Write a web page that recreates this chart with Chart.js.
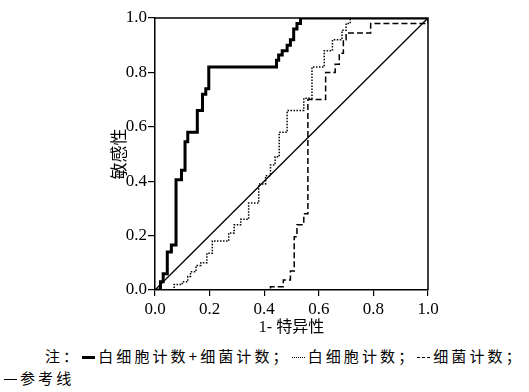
<!DOCTYPE html>
<html lang="zh">
<head>
  <meta charset="UTF-8" />
  <title>ROC 曲线</title>
  <script src="https://cdn.jsdelivr.net/npm/chart.js"></script>
  <style>
    body { margin: 0; background: #fff; }
    #wrap { position: relative; width: 529px; height: 392px; }
    #roc { position: absolute; left: 0; top: 0; }
    .note { position: absolute; font-family: 'Noto Sans CJK SC', sans-serif; font-size: 15px; letter-spacing: 3.1px; color: #000; white-space: nowrap; line-height: 20px; }
    .mk { display: inline-block; width: 13px; height: 0; vertical-align: middle; margin: 0 3px 0 1px; }
    .mk.thick { border-top: 3px solid #000; }
    .mk.dot { border-top: 1.5px dotted #000; }
    .mk.dash { border-top: 1.5px dashed #000; }
    .mk.thin { border-top: 1.5px solid #000; }
  </style>
</head>
<body>
  <div id="wrap">
    <canvas id="roc" width="529" height="345"></canvas>
    <div class="note" style="left:45px; top:346px;">注：<span class="mk thick"></span>白细胞计数+细菌计数；<span class="mk dot"></span>白细胞计数；<span class="mk dash"></span>细菌计数；</div>
    <div class="note" style="left:3px; top:368px;"><span class="mk thin"></span>参考线</div>
  </div>

  <script>
    // 1-特异性 / 敏感性 (corner points, step before)
    const comboX = [0, 0.02, 0.03, 0.045, 0.06, 0.077, 0.097, 0.11, 0.12, 0.155, 0.174, 0.186, 0.197, 0.445, 0.453, 0.466, 0.484, 0.496, 0.508, 0.52, 0.533, 1.0];
    const comboY = [0, 0.03, 0.06, 0.14, 0.165, 0.405, 0.44, 0.545, 0.58, 0.66, 0.72, 0.74, 0.82, 0.845, 0.864, 0.88, 0.90, 0.92, 0.96, 0.98, 1.0, 1.0];

    const wbcX = [0, 0.07, 0.10, 0.12, 0.13, 0.15, 0.168, 0.19, 0.21, 0.27, 0.29, 0.314, 0.343, 0.38, 0.405, 0.423, 0.44, 0.455, 0.484, 0.545, 0.575, 0.62, 0.65, 0.685, 0.70, 0.715, 1.0];
    const wbcY = [0, 0.02, 0.03, 0.05, 0.067, 0.09, 0.10, 0.135, 0.18, 0.21, 0.24, 0.26, 0.32, 0.39, 0.42, 0.46, 0.49, 0.58, 0.66, 0.705, 0.82, 0.88, 0.92, 0.955, 0.98, 1.0, 1.0];

    const bactX = [0, 0.423, 0.47, 0.496, 0.51, 0.52, 0.545, 0.56, 0.625, 0.66, 0.675, 0.69, 0.70, 0.79, 1.0];
    const bactY = [0, 0.012, 0.037, 0.07, 0.196, 0.24, 0.28, 0.70, 0.80, 0.83, 0.87, 0.92, 0.945, 0.98, 1.0];

    const refX = [0, 1];
    const refY = [0, 1];

    const pts = (xs, ys) => xs.map((x, i) => ({ x: x, y: ys[i] }));

    const serif = "'Liberation Serif', 'Noto Sans CJK SC', serif";

    // draw top + right sides of the box
    const frame = {
      id: 'frame',
      afterDatasetsDraw(chart) {
        const { ctx, chartArea: a } = chart;
        ctx.save();
        ctx.strokeStyle = '#000';
        ctx.lineWidth = 1.5;
        ctx.beginPath();
        ctx.moveTo(a.left, a.top);
        ctx.lineTo(a.right, a.top);
        ctx.lineTo(a.right, a.bottom);
        ctx.stroke();
        ctx.restore();
      }
    };

    new Chart(document.getElementById('roc'), {
      type: 'scatter',
      data: {
        datasets: [
          { label: '参考线', data: pts(refX, refY), showLine: true, borderColor: '#000', borderWidth: 1.3, pointRadius: 0 },
          { label: '细菌计数', data: pts(bactX, bactY), showLine: true, stepped: 'before', borderColor: '#000', borderWidth: 1.5, borderDash: [6, 3], pointRadius: 0 },
          { label: '白细胞计数', data: pts(wbcX, wbcY), showLine: true, stepped: 'before', borderColor: '#000', borderWidth: 1.5, borderDash: [1.5, 1.5], pointRadius: 0 },
          { label: '白细胞计数+细菌计数', data: pts(comboX, comboY), showLine: true, stepped: 'before', borderColor: '#000', borderWidth: 3, pointRadius: 0 }
        ]
      },
      options: {
        responsive: false,
        animation: false,
        layout: { padding: { left: 107, right: 101, top: 18, bottom: 0 } },
        plugins: { legend: { display: false }, tooltip: { enabled: false } },
        scales: {
          x: {
            type: 'linear', min: 0, max: 1,
            afterFit: s => { s.height = 55; },
            ticks: { stepSize: 0.2, padding: 3, color: '#000', font: { family: serif, size: 17 }, callback: v => v.toFixed(1) },
            grid: { drawOnChartArea: false, drawTicks: true, tickLength: 6, color: '#000', lineWidth: 1.2 },
            border: { color: '#000', width: 1.5 },
            title: { display: true, text: '1- 特异性', color: '#000', font: { family: serif, size: 16 }, padding: { top: 0, bottom: 8 } }
          },
          y: {
            type: 'linear', min: 0, max: 1,
            afterFit: s => { s.width = 48; },
            ticks: { stepSize: 0.2, padding: 1, color: '#000', font: { family: serif, size: 17 }, callback: v => v.toFixed(1) },
            grid: { drawOnChartArea: false, drawTicks: true, tickLength: 7, color: '#000', lineWidth: 1.2 },
            border: { color: '#000', width: 1.5 },
            title: { display: true, text: '敏感性', color: '#000', font: { family: serif, size: 17 }, padding: { top: 3, bottom: 0 } }
          }
        }
      },
      plugins: [frame]
    });
  </script>
</body>
</html>
